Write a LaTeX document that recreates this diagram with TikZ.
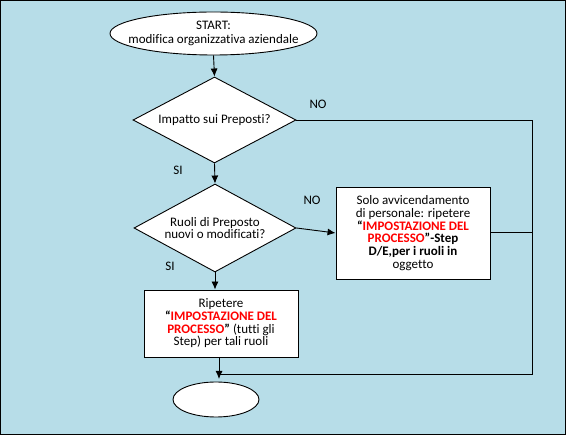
\documentclass[tikz,border=0pt]{standalone}
\usepackage{fontspec}
\setmainfont{Carlito}[Ligatures={NoCommon}]
\usetikzlibrary{shapes.geometric,arrows.meta}
\definecolor{bgblue}{HTML}{B7DDE8}
\definecolor{kred}{HTML}{FF0000}
\tikzset{
  base/.style={draw=black,line width=0.9pt,fill=white,inner sep=0pt,font=\fontsize{13}{12.7}\selectfont,align=center},
  term/.style={base,ellipse,minimum width=#1},
  dec/.style={base,diamond,shape aspect=1.9},
  proc/.style={base,rectangle},
  conn/.style={line width=0.9pt,draw=black},
  arr/.style={conn,-{Latex[length=8pt,width=7pt]}},
  lbl/.style={font=\fontsize{13}{13}\selectfont,inner sep=0pt},
  txt/.style={font=\fontsize{13}{13.6}\selectfont,inner sep=0pt,align=center},
}
\newcommand{\rb}[1]{\textbf{\textcolor{kred}{#1}}}
\begin{document}
\begin{tikzpicture}[x=1pt,y=-1pt]
\useasboundingbox (0,0) rectangle (566,435);
\fill[bgblue] (0,0) rectangle (566,435);
\draw[line width=1.2pt] (0.6,0.6) rectangle (565.4,434.4);

\node[term=207pt,minimum height=43pt] (start) at (213.5,33.5) {};
\node[txt] (starttxt) at (start) {START:\\modifica organizzativa aziendale};
\node[dec,minimum width=163pt,minimum height=86pt] (d1) at (214.5,120) {Impatto sui Preposti?};
\node[dec,minimum width=162pt,minimum height=88pt] (d2) at (215,228) {Ruoli di Preposto\\nuovi o modificati?};
\node[proc,minimum width=154pt,minimum height=92pt] (b1) at (413,233) {Solo avvicendamento\\di personale: ripetere\\\textbf{“}\rb{IMPOSTAZIONE DEL}\\\rb{PROCESSO}\textbf{”-Step}\\\textbf{D/E,per i ruoli in}\\oggetto};
\node[proc,minimum width=154pt,minimum height=67pt] (b2) at (221,323.5) {Ripetere\\\textbf{“}\rb{IMPOSTAZIONE DEL}\\\rb{PROCESSO}\textbf{”} (tutti gli\\Step) per tali ruoli};
\node[term=86pt,minimum height=35pt] (end) at (216,399.5) {};

\coordinate (r1) at (532,120);
\coordinate (r2) at (532,374);
\coordinate (j) at (219,374);

\draw[arr] (start.south) -- (d1.north);
\draw[arr] (d1.south) -- (d2.north);
\draw[arr] (d2.east) -- (b1.west);
\draw[arr] (d2.south) -- (d2.south |- b2.north);
\draw[conn] (d1.east) -- (r1) -- (r2) -- (j);
\draw[conn] (b1.east |- 0,232) -- (532,232);
\draw[arr] (219,357) -- (219,379);

\node[lbl] (no1) at (318,104) {NO};
\node[lbl] (si1) at (178,170) {SI};
\node[lbl] (no2) at (312,200) {NO};
\node[lbl] (si2) at (170,266) {SI};
\end{tikzpicture}
\end{document}
